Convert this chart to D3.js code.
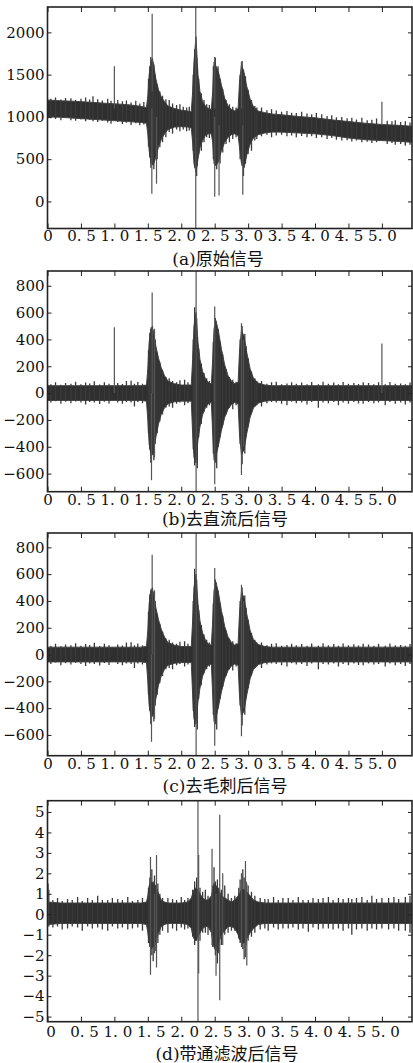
<!DOCTYPE html>
<html>
<head>
<meta charset="utf-8">
<script src="https://cdn.jsdelivr.net/npm/d3@7"></script>
<style>
  body { margin: 0; background: #fff; }
  svg { display: block; }
</style>
</head>
<body>
<script>
const T = [0, 0.2, 0.4, 0.6, 0.8, 1.0, 1.2, 1.4,
  1.48, 1.5, 1.52, 1.55, 1.58, 1.62, 1.66, 1.7, 1.75, 1.8,
  1.9, 2.0, 2.1, 2.15, 2.17, 2.19, 2.22, 2.25, 2.28, 2.32,
  2.36, 2.4, 2.45, 2.47, 2.49, 2.52, 2.56, 2.6, 2.65, 2.7,
  2.75, 2.8, 2.85, 2.87, 2.9, 2.94, 2.98, 3.03, 3.08, 3.15,
  3.25, 3.35, 3.5, 3.75, 4.0, 4.25, 4.5, 4.75, 5.0, 5.25,
  5.45];

// (a) raw signal
const aUpper = [1200, 1190, 1185, 1175, 1165, 1155, 1145, 1125,
  1110, 1250, 1500, 1680, 1650, 1450, 1320, 1240, 1180, 1130,
  1100, 1080, 1070, 1060, 1300, 1650, 1950, 1500, 1300, 1180,
  1130, 1100, 1090, 1300, 1650, 1600, 1520, 1380, 1220, 1130,
  1090, 1070, 1100, 1400, 1620, 1520, 1360, 1210, 1120, 1070,
  1050, 1035, 1025, 1005, 990, 965, 945, 925, 910, 900,
  890];
const aLower = [1000, 995, 985, 975, 965, 955, 945, 935,
  925, 800, 600, 450, 430, 520, 650, 730, 800, 850,
  880, 885, 880, 870, 700, 450, 350, 500, 640, 720,
  780, 800, 800, 700, 450, 420, 480, 600, 700, 760,
  790, 800, 780, 650, 450, 400, 550, 680, 750, 790,
  810, 820, 820, 810, 800, 780, 750, 730, 720, 710,
  700];
// single spikes [t, top, bottom]
const aSpikes = [[1.0, 1600, 1100], [1.565, 2220, 1300], [1.56, 1100, 90], [1.63, 1000, 210],
  [2.217, 2300, -320], [2.5, 1710, 1100], [2.5, 1000, 55], [2.565, 900, 70],
  [2.9, 1650, 1100], [2.92, 900, 80], [5.0, 1180, 900]];
// short noise strokes that stick out of the envelope [t, top, bottom]
const aHairs = [[0.05, 1215, 985], [0.12, 1230, 975], [0.2, 1205, 960], [0.27, 1225, 990],
  [0.35, 1220, 960], [0.42, 1200, 955], [0.5, 1215, 970], [0.57, 1230, 950],
  [0.63, 1205, 965], [0.68, 1245, 950], [0.75, 1210, 940], [0.82, 1195, 955],
  [0.9, 1215, 935], [0.95, 1190, 920], [1.05, 1200, 940], [1.12, 1185, 915],
  [1.18, 1195, 930], [1.25, 1170, 905], [1.32, 1190, 925], [1.38, 1160, 900],
  [1.44, 1175, 910],
  [1.51, 1450, 650], [1.53, 1600, 520], [1.545, 1710, 400], [1.57, 1690, 470],
  [1.59, 1620, 380], [1.61, 1500, 560], [1.64, 1380, 500], [1.68, 1300, 640],
  [1.72, 1250, 700], [1.77, 1210, 760],
  [1.82, 1200, 820], [1.87, 1160, 800], [1.93, 1140, 850], [1.98, 1150, 830],
  [2.03, 1120, 850], [2.08, 1110, 830], [2.12, 1120, 840],
  [2.18, 1500, 600], [2.2, 1800, 400], [2.23, 1700, 300], [2.24, 1600, 420],
  [2.26, 1450, 560], [2.3, 1280, 600], [2.34, 1200, 700], [2.38, 1150, 760],
  [2.42, 1140, 750],
  [2.48, 1600, 500], [2.51, 1700, 450], [2.53, 1580, 380], [2.55, 1600, 520],
  [2.58, 1450, 450], [2.62, 1330, 580], [2.67, 1200, 680], [2.72, 1150, 700],
  [2.77, 1120, 740], [2.82, 1110, 760],
  [2.88, 1500, 500], [2.91, 1660, 420], [2.93, 1560, 300], [2.96, 1480, 450],
  [3.0, 1320, 560], [3.05, 1200, 600], [3.1, 1130, 720], [3.13, 1110, 740],
  [3.2, 1110, 770], [3.28, 1080, 790], [3.35, 1090, 760], [3.42, 1075, 780],
  [3.5, 1060, 790], [3.58, 1070, 770], [3.65, 1050, 780], [3.72, 1045, 760],
  [3.8, 1060, 775], [3.88, 1040, 760], [3.95, 1030, 770], [4.02, 1045, 750],
  [4.1, 1030, 760], [4.18, 1010, 740], [4.25, 1020, 750], [4.32, 995, 730],
  [4.4, 1000, 720], [4.48, 985, 725], [4.55, 990, 710], [4.62, 970, 720],
  [4.7, 990, 700], [4.78, 960, 705], [4.85, 965, 690], [4.92, 980, 700],
  [5.08, 955, 680], [5.15, 950, 690], [5.2, 960, 670], [5.28, 940, 680],
  [5.35, 950, 660], [5.42, 935, 670]];

// (b) DC removed
const bUpper = [55, 55, 55, 55, 55, 55, 55, 55,
  60, 180, 380, 490, 470, 350, 260, 190, 130, 90,
  70, 60, 60, 60, 250, 500, 600, 380, 250, 160,
  110, 80, 70, 250, 480, 540, 450, 330, 210, 130,
  90, 70, 80, 300, 470, 420, 300, 180, 110, 75,
  60, 55, 55, 55, 55, 55, 55, 55, 55, 55,
  55];
const bLower = [-55, -55, -55, -55, -55, -55, -55, -55,
  -60, -200, -380, -470, -450, -330, -230, -160, -110, -80,
  -65, -60, -60, -60, -300, -480, -520, -350, -250, -160,
  -110, -80, -70, -300, -500, -470, -380, -280, -180, -120,
  -85, -70, -80, -300, -460, -420, -300, -180, -110, -75,
  -60, -55, -55, -55, -55, -55, -55, -55, -55, -55,
  -55];
const bSpikes = [[1.0, 490, 0], [1.565, 750, 0], [1.555, 0, -650], [1.6, 480, -480],
  [2.222, 910, -735], [2.5, 645, -680], [2.9, 520, -610], [2.93, 400, -400],
  [5.0, 370, 0]];
const bHairs = [[0.05, 65, -70], [0.12, 80, -60], [0.2, 62, -80], [0.27, 75, -65],
  [0.35, 70, -75], [0.42, 85, -62], [0.5, 66, -70], [0.57, 78, -85],
  [0.63, 72, -66], [0.7, 88, -70], [0.78, 64, -82], [0.85, 80, -64],
  [0.92, 70, -78], [1.05, 75, -70], [1.12, 68, -80], [1.18, 90, -66],
  [1.25, 92, -70], [1.3, 70, -100], [1.35, 82, -66], [1.42, 70, -75],
  [1.51, 320, -300], [1.53, 450, -420], [1.545, 480, -520], [1.57, 500, -460],
  [1.59, 440, -500], [1.61, 400, -380], [1.64, 300, -300], [1.68, 230, -210],
  [1.72, 170, -160], [1.77, 120, -110],
  [1.82, 110, -100], [1.87, 90, -110], [1.93, 80, -80], [1.98, 95, -70],
  [2.05, 100, -90], [2.1, 80, -75],
  [2.18, 400, -420], [2.2, 640, -540], [2.23, 560, -480], [2.24, 420, -560],
  [2.26, 330, -330], [2.3, 220, -230], [2.34, 150, -140], [2.38, 110, -110],
  [2.42, 90, -90],
  [2.48, 380, -450], [2.51, 560, -520], [2.53, 500, -560], [2.55, 480, -400],
  [2.58, 380, -330], [2.62, 290, -240], [2.67, 180, -160], [2.72, 120, -110],
  [2.77, 100, -120], [2.82, 85, -90],
  [2.88, 400, -380], [2.91, 500, -530], [2.95, 440, -450], [2.97, 350, -320],
  [3.0, 260, -250], [3.05, 160, -150], [3.1, 110, -100], [3.13, 90, -90],
  [3.2, 90, -100], [3.28, 70, -75], [3.35, 80, -66], [3.42, 85, -70],
  [3.5, 66, -80], [3.58, 72, -90], [3.65, 80, -65], [3.72, 70, -75],
  [3.8, 78, -70], [3.88, 66, -85], [3.95, 82, -66], [4.05, 66, -110],
  [4.12, 85, -70], [4.2, 70, -75], [4.28, 78, -66], [4.35, 66, -90],
  [4.42, 82, -70], [4.5, 70, -80], [4.58, 76, -66], [4.65, 68, -78],
  [4.72, 80, -80], [4.8, 75, -66], [4.88, 66, -75], [4.95, 80, -70],
  [5.05, 66, -90], [5.12, 82, -66], [5.2, 70, -80], [5.28, 72, -70],
  [5.35, 66, -85], [5.42, 78, -70]];

// (c) despiked: envelope reads the same as (b), spikes at 1.0 s and 5.0 s gone
const cUpper = bUpper;
const cLower = bLower;
const cSpikes = [[1.565, 745, 0], [1.555, 0, -650], [1.6, 480, -480],
  [2.222, 907, -755], [2.5, 645, -680], [2.9, 520, -610], [2.93, 400, -400]];
const cHairs = bHairs;

// (d) band-pass filtered
const dUpper = [0.6, 0.55, 0.55, 0.55, 0.55, 0.55, 0.55, 0.55,
  0.6, 0.9, 1.4, 1.6, 1.5, 1.4, 1.0, 0.7, 0.6, 0.55,
  0.55, 0.55, 0.6, 0.8, 1.0, 1.2, 1.3, 1.2, 1.0, 0.8,
  0.7, 0.7, 0.9, 1.2, 1.5, 1.4, 1.2, 0.9, 0.8, 0.7,
  0.6, 0.7, 0.9, 1.0, 1.2, 1.2, 1.1, 0.9, 0.7, 0.6,
  0.55, 0.55, 0.55, 0.55, 0.55, 0.55, 0.55, 0.55, 0.55, 0.55,
  0.55];
const dLower = [-0.5, -0.45, -0.45, -0.45, -0.45, -0.45, -0.45, -0.45,
  -0.5, -0.9, -1.4, -1.7, -1.6, -1.3, -0.9, -0.6, -0.5, -0.45,
  -0.45, -0.45, -0.5, -0.7, -1.0, -1.2, -1.3, -1.1, -0.9, -0.7,
  -0.6, -0.6, -0.9, -1.3, -1.6, -1.8, -1.4, -1.0, -0.8, -0.6,
  -0.6, -0.7, -1.0, -1.2, -1.4, -1.4, -1.2, -0.9, -0.7, -0.5,
  -0.45, -0.45, -0.45, -0.45, -0.45, -0.45, -0.45, -0.45, -0.45, -0.45,
  -0.45];
const dSpikes = [[0.01, 1.5, -0.5], [1.54, 2.8, -2.95], [1.63, 2.9, -2.6], [1.6, 1.0, -1.9],
  [2.25, 5.55, -5.25], [2.26, 2.9, -2.9], [2.46, 3.2, -1.5], [2.52, 1.0, -3.0],
  [2.575, 4.86, -4.2], [2.62, 2.0, -1.5], [2.9, 2.0, -1.6], [2.96, 2.6, -2.1],
  [2.98, 1.5, -2.5]];
const dHairs = [[0.02, 1.2, -0.6], [0.08, 0.7, -0.65], [0.15, 0.8, -0.6], [0.22, 0.65, -0.75],
  [0.3, 0.75, -0.7], [0.37, 0.7, -0.6], [0.45, 0.85, -0.65], [0.52, 0.65, -0.8],
  [0.6, 0.8, -0.6], [0.67, 0.7, -0.7], [0.75, 0.9, -0.65], [0.82, 0.7, -0.75],
  [0.9, 0.7, -0.8], [0.97, 0.8, -0.6], [1.05, 0.75, -0.7], [1.12, 0.7, -0.65],
  [1.2, 0.85, -0.75], [1.27, 0.65, -0.7], [1.35, 0.7, -0.65], [1.42, 0.8, -0.8],
  [1.51, 1.3, -1.4], [1.53, 1.8, -1.6], [1.56, 2.2, -2.0], [1.58, 1.6, -2.3],
  [1.6, 1.9, -1.5], [1.61, 1.4, -1.8], [1.65, 1.5, -1.4], [1.68, 1.0, -1.0],
  [1.72, 0.8, -0.8],
  [1.8, 0.8, -0.9], [1.87, 0.75, -0.7], [1.93, 0.7, -0.8], [2.0, 0.85, -0.65],
  [2.05, 0.7, -0.75], [2.1, 0.8, -0.7],
  [2.17, 1.2, -1.1], [2.2, 1.6, -1.5], [2.23, 1.8, -1.3], [2.28, 1.3, -1.3],
  [2.32, 1.1, -0.9], [2.36, 1.2, -0.9], [2.4, 0.9, -1.0],
  [2.47, 1.4, -1.6], [2.49, 2.3, -1.5], [2.51, 1.6, -2.0], [2.54, 1.7, -2.4],
  [2.56, 1.3, -1.9], [2.6, 1.2, -1.5], [2.65, 1.4, -1.0], [2.7, 1.0, -0.9],
  [2.75, 0.8, -0.8], [2.8, 0.9, -0.8],
  [2.86, 1.3, -1.2], [2.88, 1.7, -1.4], [2.92, 2.2, -1.7], [2.94, 1.8, -2.2],
  [2.97, 1.6, -1.5], [3.0, 1.4, -1.3], [3.05, 1.1, -1.1], [3.1, 0.9, -0.9],
  [3.18, 0.8, -0.75], [3.25, 0.75, -0.7], [3.3, 0.75, -0.8], [3.38, 0.85, -0.65],
  [3.45, 0.7, -0.75], [3.52, 0.8, -0.7], [3.6, 0.8, -0.7], [3.67, 0.7, -0.65],
  [3.75, 0.85, -0.75], [3.82, 0.7, -0.7], [3.9, 0.7, -0.85], [3.97, 0.8, -0.65],
  [4.05, 0.75, -0.75], [4.12, 0.8, -0.7], [4.2, 0.85, -0.7], [4.27, 0.7, -0.75],
  [4.35, 0.8, -0.7], [4.42, 0.75, -0.8], [4.5, 0.8, -0.7], [4.55, 0.75, -1.0],
  [4.62, 0.8, -0.75], [4.7, 0.85, -0.7], [4.78, 0.7, -0.8], [4.85, 0.9, -0.7],
  [4.92, 0.75, -0.75], [5.0, 0.8, -0.7], [5.1, 0.8, -0.75], [5.18, 0.85, -0.7],
  [5.25, 0.75, -0.8], [5.35, 0.85, -0.8], [5.42, 0.9, -0.9]];

// axis ticks
const xTicks = [0, 0.5, 1.0, 1.5, 2.0, 2.5, 3.0, 3.5, 4.0, 4.5, 5.0];
const xTickLabels = ["0", "0. 5", "1. 0", "1. 5", "2. 0", "2. 5", "3. 0", "3. 5", "4. 0", "4. 5", "5. 0"];
const aTicks = [0, 500, 1000, 1500, 2000];
const bTicks = [-600, -400, -200, 0, 200, 400, 600, 800];
const dTicks = [-5, -4, -3, -2, -1, 0, 1, 2, 3, 4, 5];
const captions = ["(a)原始信号", "(b)去直流后信号", "(c)去毛刺后信号", "(d)带通滤波后信号"];

const width = 413, height = 1063;
const xLeft = 47.5, xRight = 412;

const panels = [
  {id: "a", top: 7, bottom: 228.5, domain: [-320, 2300], ticks: aTicks, upper: aUpper, lower: aLower,
    spikes: aSpikes, hairs: aHairs, caption: captions[0], capX: 218, capY: 264.5, tickY: 241, tickDx: 0},
  {id: "b", top: 271, bottom: 491.7, domain: [-735, 910], ticks: bTicks, upper: bUpper, lower: bLower,
    spikes: bSpikes, hairs: bHairs, caption: captions[1], capX: 225, capY: 524.5, tickY: 504.5, tickDx: 0},
  {id: "c", top: 533, bottom: 755.7, domain: [-755, 907], ticks: bTicks, upper: cUpper, lower: cLower,
    spikes: cSpikes, hairs: cHairs, caption: captions[2], capX: 225, capY: 792, tickY: 769, tickDx: 0},
  {id: "d", top: 800.7, bottom: 1021.7, domain: [-5.25, 5.55], ticks: dTicks, upper: dUpper, lower: dLower,
    spikes: dSpikes, hairs: dHairs, caption: captions[3], capX: 227, capY: 1059.5, tickY: 1037, tickDx: 3}
];

const svg = d3.select("body")
  .append("svg")
  .attr("width", width)
  .attr("height", height);

const x = d3.scaleLinear().domain([0, 5.45]).range([xLeft, xRight]);
const fmtY = d => (d < 0 ? "\u2212" + Math.abs(d) : String(d));

panels.forEach(p => {
  const y = d3.scaleLinear().domain(p.domain).range([p.bottom, p.top]);

  svg.append("clipPath").attr("id", "clip-" + p.id)
    .append("rect")
    .attr("x", xLeft).attr("y", p.top)
    .attr("width", xRight - xLeft).attr("height", p.bottom - p.top);

  const plot = svg.append("g").attr("clip-path", `url(#clip-${p.id})`);

  // envelope of the dense trace
  const env = T.map((t, i) => ({t: t, hi: p.upper[i], lo: p.lower[i]}));
  const area = d3.area()
    .x(d => x(d.t))
    .y0(d => y(d.lo))
    .y1(d => y(d.hi));
  plot.append("path")
    .datum(env)
    .attr("d", area)
    .attr("fill", "#2f2f2f")
    .attr("stroke", "#444")
    .attr("stroke-width", 1);

  plot.selectAll("line.hair")
    .data(p.hairs)
    .join("line")
    .attr("class", "hair")
    .attr("x1", d => x(d[0])).attr("x2", d => x(d[0]))
    .attr("y1", d => y(d[1])).attr("y2", d => y(d[2]))
    .attr("stroke", "#3a3a3a")
    .attr("stroke-width", 1.3);

  plot.selectAll("line.spike")
    .data(p.spikes)
    .join("line")
    .attr("class", "spike")
    .attr("x1", d => x(d[0])).attr("x2", d => x(d[0]))
    .attr("y1", d => y(d[1])).attr("y2", d => y(d[2]))
    .attr("stroke", "#555")
    .attr("stroke-width", 1.2);

  // inward ticks on all four sides
  const gB = svg.append("g")
    .attr("transform", `translate(0,${p.bottom})`)
    .call(d3.axisBottom(x).tickValues(xTicks).tickSize(-5).tickSizeOuter(0)
      .tickFormat((d, i) => xTickLabels[i]));
  gB.selectAll("text").attr("y", p.tickY - p.bottom).attr("dy", null).attr("dx", p.tickDx);

  svg.append("g")
    .attr("transform", `translate(0,${p.top})`)
    .call(d3.axisTop(x).tickValues(xTicks).tickSize(-5).tickSizeOuter(0).tickFormat(""));

  svg.append("g")
    .attr("transform", `translate(${xLeft},0)`)
    .call(d3.axisLeft(y).tickValues(p.ticks).tickSize(-4).tickSizeOuter(0).tickPadding(3).tickFormat(fmtY));

  svg.append("g")
    .attr("transform", `translate(${xRight},0)`)
    .call(d3.axisRight(y).tickValues(p.ticks).tickSize(-4).tickSizeOuter(0).tickFormat(""));

  svg.selectAll(".domain").remove();

  svg.append("rect")
    .attr("x", xLeft).attr("y", p.top)
    .attr("width", xRight - xLeft).attr("height", p.bottom - p.top)
    .attr("fill", "none")
    .attr("stroke", "#222")
    .attr("stroke-width", 1.6);

  svg.append("text")
    .attr("x", p.capX).attr("y", p.capY)
    .attr("text-anchor", "middle")
    .attr("font-family", "'DejaVu Serif', 'Noto Sans CJK SC', serif")
    .attr("font-size", 17)
    .attr("fill", "#111")
    .text(p.caption);
});

svg.selectAll(".tick line").attr("stroke", "#222").attr("stroke-width", 1);
svg.selectAll(".tick text")
  .attr("font-family", "'DejaVu Serif', serif")
  .attr("font-size", 15)
  .attr("fill", "#111");
</script>
</body>
</html>
